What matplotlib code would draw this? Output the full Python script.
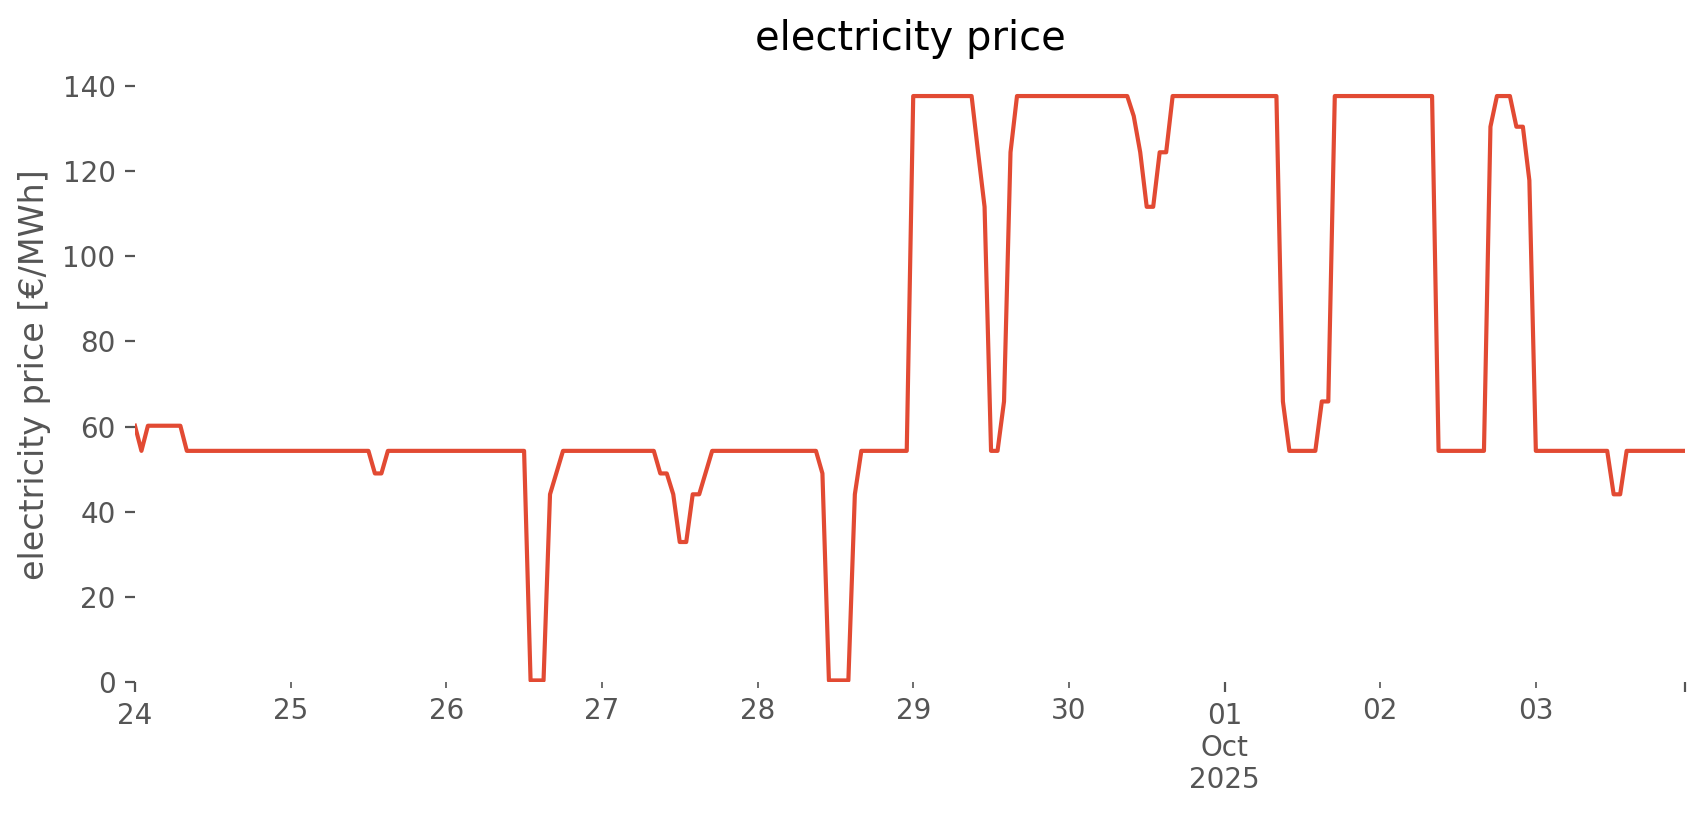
# -*- coding: utf-8 -*-
"""
electricity price - hourly series, 24 Sep to 03 Oct 2025
"""

import numpy as np
import pandas as pd
import matplotlib
matplotlib.use("Agg")
import matplotlib.pyplot as plt


# hourly prices [€/MWh], one row per day
price_24 = [60.2, 54.3, 60.2, 60.2, 60.2, 60.2, 60.2, 60.2, 54.3, 54.3, 54.3, 54.3,
            54.3, 54.3, 54.3, 54.3, 54.3, 54.3, 54.3, 54.3, 54.3, 54.3, 54.3, 54.3]
price_25 = [54.3, 54.3, 54.3, 54.3, 54.3, 54.3, 54.3, 54.3, 54.3, 54.3, 54.3, 54.3,
            54.3, 49.0, 49.0, 54.3, 54.3, 54.3, 54.3, 54.3, 54.3, 54.3, 54.3, 54.3]
price_26 = [54.3, 54.3, 54.3, 54.3, 54.3, 54.3, 54.3, 54.3, 54.3, 54.3, 54.3, 54.3,
            54.3, 0.4, 0.4, 0.4, 44.1, 49.2, 54.3, 54.3, 54.3, 54.3, 54.3, 54.3]
price_27 = [54.3, 54.3, 54.3, 54.3, 54.3, 54.3, 54.3, 54.3, 54.3, 49.0, 49.0, 44.1,
            32.9, 32.9, 44.1, 44.1, 49.2, 54.3, 54.3, 54.3, 54.3, 54.3, 54.3, 54.3]
price_28 = [54.3, 54.3, 54.3, 54.3, 54.3, 54.3, 54.3, 54.3, 54.3, 54.3, 49.0, 0.4,
            0.4, 0.4, 0.4, 44.1, 54.3, 54.3, 54.3, 54.3, 54.3, 54.3, 54.3, 54.3]
price_29 = [137.6, 137.6, 137.6, 137.6, 137.6, 137.6, 137.6, 137.6, 137.6, 137.6, 124.4, 111.6,
            54.3, 54.3, 65.9, 124.4, 137.6, 137.6, 137.6, 137.6, 137.6, 137.6, 137.6, 137.6]
price_30 = [137.6, 137.6, 137.6, 137.6, 137.6, 137.6, 137.6, 137.6, 137.6, 137.6, 132.9, 124.4,
            111.6, 111.6, 124.4, 124.4, 137.6, 137.6, 137.6, 137.6, 137.6, 137.6, 137.6, 137.6]
price_01 = [137.6, 137.6, 137.6, 137.6, 137.6, 137.6, 137.6, 137.6, 137.6, 65.9, 54.3, 54.3,
            54.3, 54.3, 54.3, 65.9, 65.9, 137.6, 137.6, 137.6, 137.6, 137.6, 137.6, 137.6]
price_02 = [137.6, 137.6, 137.6, 137.6, 137.6, 137.6, 137.6, 137.6, 137.6, 54.3, 54.3, 54.3,
            54.3, 54.3, 54.3, 54.3, 54.3, 130.4, 137.6, 137.6, 137.6, 130.4, 130.4, 117.8]
price_03 = [54.3, 54.3, 54.3, 54.3, 54.3, 54.3, 54.3, 54.3, 54.3, 54.3, 54.3, 54.3,
            44.1, 44.1, 54.3, 54.3, 54.3, 54.3, 54.3, 54.3, 54.3, 54.3, 54.3, 54.3]

start = "2025-09-24 00:00"

values = np.concatenate([price_24, price_25, price_26, price_27, price_28,
                         price_29, price_30, price_01, price_02, price_03])
idx = pd.date_range(start, periods=len(values), freq="h")
price = pd.Series(values, index=idx)

plt.style.use("ggplot")

fig = plt.figure(figsize=(1706 / 200, 815 / 200), dpi=200)
ax = fig.add_axes([0.0791, 0.163, 0.9086, 0.755])
ax.set_facecolor("white")
fig.patch.set_facecolor("white")

price.plot(ax=ax, color="#E24A33", linewidth=1.5)
ax.set_ylim(bottom=0)
ax.grid(False)
for s in ax.spines.values():
    s.set_visible(False)

ax.set_title("electricity price")
ax.set_ylabel("electricity price [€/MWh]")
ax.set_xlabel("")

fig.savefig("out.png", dpi=200, facecolor="white")
